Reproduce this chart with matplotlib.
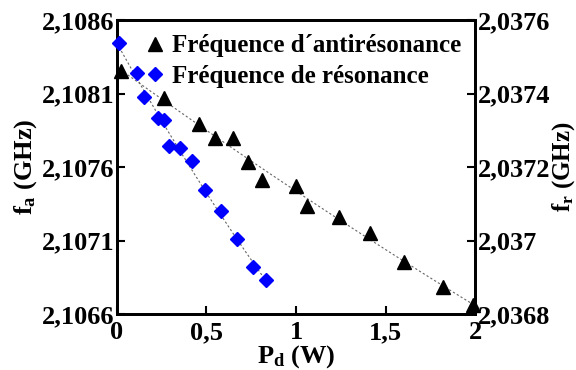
import numpy as np
import matplotlib.pyplot as plt
from matplotlib.ticker import FuncFormatter

# Fréquence d'antirésonance (left axis)
pd_anti = [0.02, 0.26, 0.46, 0.55, 0.65, 0.73, 0.81, 1.00, 1.06, 1.24, 1.41, 1.60, 1.82, 1.99]
fa = [2.108253, 2.108067, 2.107893, 2.107795, 2.107795, 2.107636, 2.107512,
      2.107473, 2.107335, 2.107262, 2.107153, 2.106952, 2.106786, 2.106661]

# Fréquence de résonance (right axis)
pd_res = [0.01, 0.11, 0.15, 0.23, 0.26, 0.29, 0.35, 0.42, 0.49, 0.58, 0.67, 0.76, 0.83]
fr = [2.037537, 2.037455, 2.037391, 2.037333, 2.037328, 2.037257, 2.037251,
      2.037216, 2.037137, 2.037081, 2.037004, 2.036928, 2.036894]

x_ticks = [0, 0.5, 1, 1.5, 2]
fa_ticks = [2.1066, 2.1071, 2.1076, 2.1081, 2.1086]
fr_ticks = [2.0368, 2.0370, 2.0372, 2.0374, 2.0376]

plt.rcParams['font.family'] = 'Liberation Serif'
plt.rcParams['font.weight'] = 'bold'
plt.rcParams['axes.labelweight'] = 'bold'
plt.rcParams['mathtext.fontset'] = 'custom'
plt.rcParams['mathtext.rm'] = 'Liberation Serif:bold'
plt.rcParams['mathtext.bf'] = 'Liberation Serif:bold'
plt.rcParams['mathtext.it'] = 'Liberation Serif:bold'


def comma(v, pos):
    return ('%g' % round(v, 6)).replace('.', ',')


fig = plt.figure(figsize=(5.76, 3.70), dpi=100)
ax = fig.add_axes([0.203, 0.151, 0.622, 0.795])
ax2 = ax.twinx()

# dotted trend lines
c1 = np.polyfit(pd_anti, fa, 2)
xs1 = np.linspace(0, 2, 200)
ax.plot(xs1, np.polyval(c1, xs1), color='#666666', lw=0.8, ls=(0, (2, 2)), zorder=1)
c2 = np.polyfit(pd_res, fr, 2)
xs2 = np.linspace(0, max(pd_res), 200)
ax2.plot(xs2, np.polyval(c2, xs2), color='#666666', lw=0.8, ls=(0, (2, 2)), zorder=1)

l1, = ax.plot(pd_anti, fa, '^', color='black', ms=9.5, ls='none', clip_on=False, zorder=3)
l2, = ax2.plot(pd_res, fr, 'D', color='#0000ff', ms=7, ls='none', clip_on=False, zorder=3)

ax.set_xlim(0, 2)
ax.set_ylim(2.1066, 2.1086)
ax2.set_ylim(2.0368, 2.0376)
ax.set_xticks(x_ticks)
ax.set_yticks(fa_ticks)
ax2.set_yticks(fr_ticks)
for a in (ax, ax2):
    a.xaxis.set_major_formatter(FuncFormatter(comma))
    a.yaxis.set_major_formatter(FuncFormatter(comma))
    a.tick_params(direction='in', length=6, width=1.5, labelsize=19, pad=2)
    for s in a.spines.values():
        s.set_linewidth(2)
ax.tick_params(axis='x', pad=5)

ax.set_xlabel(r'$\mathregular{P_d}$ (W)', fontsize=19, labelpad=-1)
ax.set_ylabel(r'$\mathregular{f_a}$ (GHz)', fontsize=19, labelpad=2)
ax2.set_ylabel(r'$\mathregular{f_r}$ (GHz)', fontsize=18, labelpad=0, rotation=90)

ax.legend([l1, l2], ['Fréquence d´antirésonance', 'Fréquence de résonance'],
          loc='upper left', bbox_to_anchor=(0.055, 0.985), frameon=False,
          fontsize=18, handlelength=0.7, handletextpad=0.3, labelspacing=0.3,
          borderaxespad=0)

fig.savefig('out.png', dpi=100)
